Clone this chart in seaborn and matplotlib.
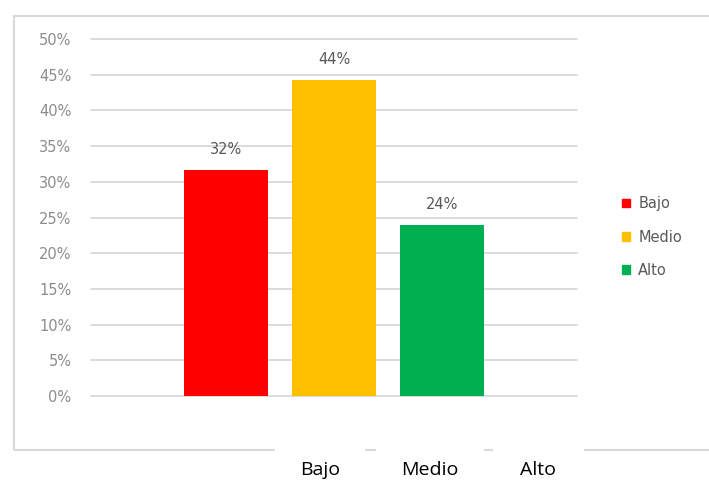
import matplotlib
matplotlib.use("Agg")
import matplotlib.pyplot as plt
import matplotlib.patches as mpatches
from matplotlib.ticker import PercentFormatter
import numpy as np
import seaborn as sns

# --- data ---------------------------------------------------------------------
levels = ["Bajo", "Medio", "Alto"]
shares = [0.317, 0.443, 0.240]
colors = ["#FF0000", "#FFC000", "#00B050"]
y_ticks = np.arange(0, 0.51, 0.05)

W, H = 709, 480
sns.set_theme(style="white")
plt.rcParams["font.family"] = ["DejaVu Sans"]

fig = plt.figure(figsize=(W / 100, H / 100), dpi=100)
ax = fig.add_axes([91 / W, 1 - 396 / H, (577 - 91) / W, (396 - 39) / H])

sns.barplot(x=levels, y=shares, hue=levels, palette=colors, order=levels,
            hue_order=levels, width=0.776, saturation=1, linewidth=0,
            legend=False, ax=ax, zorder=3)

ax.set_xlim(-1.245, 3.245)
ax.set_ylim(0, 0.5)
ax.set_yticks(y_ticks)
ax.yaxis.set_major_formatter(PercentFormatter(1, decimals=0))
ax.set_xticks([])
ax.set_xlabel("")
ax.set_ylabel("")
ax.grid(axis="y", color="#d4d4d4", linewidth=1.2, zorder=0)
for gl in ax.get_ygridlines():
    gl.set_clip_on(False)
ax.set_axisbelow(True)
for s in ax.spines.values():
    s.set_visible(False)
ax.tick_params(axis="y", length=0, pad=14, labelsize=10.5, labelcolor="#8c8c8c")

# data labels on top of bars
for cont in ax.containers:
    ax.bar_label(cont, labels=[f"{b.get_height():.0%}" for b in cont],
                 padding=9, fontsize=10.5, color="#595959")

# legend at right
handles = [mpatches.Patch(color=c, label=l) for c, l in zip(colors, levels)]
fig.legend(handles=handles, loc="upper left", bbox_to_anchor=(615 / W, 1 - 189 / H),
           frameon=False, fontsize=10.5, labelcolor="#595959", handlelength=0.5,
           handleheight=0.5, handletextpad=0.6, labelspacing=1.25, borderpad=0)

# chart border (right edge runs off the picture)
fig.patches.append(mpatches.Rectangle((14 / W, 1 - 450 / H), (900 - 14) / W, (450 - 16) / H,
                                      transform=fig.transFigure, fill=False,
                                      edgecolor="#d9d9d9", linewidth=1.5))

# header cells below the chart
cell_x = [275, 376, 493]
cell_w = [90, 108, 91]
for x0, w, lab in zip(cell_x, cell_w, levels):
    fig.patches.append(mpatches.Rectangle((x0 / W, 0), w / W, 35 / H,
                                          transform=fig.transFigure, facecolor="white",
                                          edgecolor="none", zorder=5))
    fig.text((x0 + w / 2) / W, 1 - 470 / H, lab, ha="center", va="center",
             fontsize=14, family="Open Sans", color="black", zorder=6)

fig.savefig("out.png", dpi=100)
